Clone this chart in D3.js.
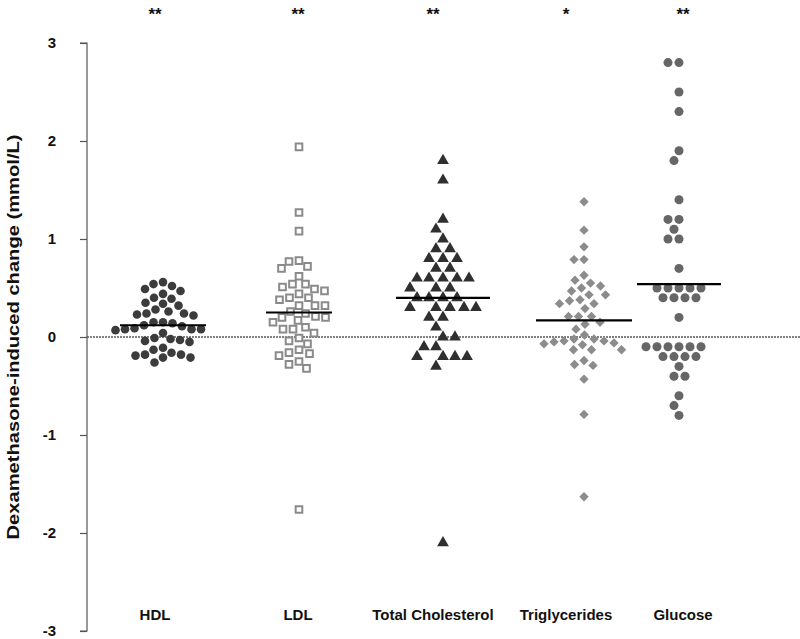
<!DOCTYPE html>
<html>
<head>
<meta charset="utf-8">
<script src="https://cdn.jsdelivr.net/npm/d3@7"></script>
<style>
  html, body { margin: 0; padding: 0; background: #fff; }
  svg { display: block; font-family: "Liberation Sans", Arial, sans-serif; }
</style>
</head>
<body>
<svg id="chart" width="800" height="639"></svg>
<script>
// ---------- data ----------
const categories = ["HDL", "LDL", "Total Cholesterol", "Triglycerides", "Glucose"];
const significance = ["**", "**", "**", "*", "**"];
const yTickValues = [-3, -2, -1, 0, 1, 2, 3];

const hdl = [0.56, 0.54, 0.52, 0.49, 0.47, 0.44, 0.40, 0.39, 0.35, 0.34, 0.32, 0.28,
  0.26, 0.24, 0.24, 0.23, 0.22, 0.15, 0.15, 0.14, 0.12, 0.11, 0.09, 0.08, 0.08, 0.08,
  0.07, 0.04, -0.01, -0.02, -0.03, -0.04, -0.05, -0.11, -0.13, -0.16, -0.18, -0.18,
  -0.19, -0.21, -0.21, -0.26];
const ldl = [1.94, 1.27, 1.08, 0.78, 0.77, 0.72, 0.70, 0.62, 0.54, 0.54, 0.51, 0.49,
  0.47, 0.44, 0.40, 0.40, 0.38, 0.32, 0.32, 0.32, 0.26, 0.24, 0.21, 0.20, 0.20, 0.17,
  0.15, 0.10, 0.08, 0.08, 0.04, -0.01, -0.04, -0.07, -0.13, -0.16, -0.17, -0.19,
  -0.25, -0.28, -0.32, -1.76];
const totalChol = [1.80, 1.60, 1.20, 1.10, 1.00, 0.90, 0.90, 0.80, 0.80, 0.80, 0.70,
  0.70, 0.60, 0.60, 0.60, 0.60, 0.60, 0.50, 0.50, 0.50, 0.40, 0.40, 0.40, 0.40, 0.30,
  0.30, 0.30, 0.30, 0.30, 0.20, 0.20, 0.10, 0.00, 0.00, -0.10, -0.10, -0.20, -0.20,
  -0.20, -0.20, -0.30, -2.10];
const triglycerides = [1.38, 1.09, 0.92, 0.79, 0.79, 0.63, 0.58, 0.55, 0.52, 0.50,
  0.47, 0.43, 0.43, 0.38, 0.37, 0.34, 0.34, 0.29, 0.21, 0.21, 0.21, 0.15, 0.13, 0.08,
  0.02, -0.02, -0.02, -0.04, -0.04, -0.05, -0.06, -0.07, -0.08, -0.13, -0.13, -0.13,
  -0.24, -0.28, -0.29, -0.43, -0.79, -1.63];
const glucose = [2.8, 2.8, 2.5, 2.3, 1.9, 1.8, 1.4, 1.2, 1.2, 1.1, 1.0, 1.0, 0.7,
  0.5, 0.5, 0.5, 0.5, 0.5, 0.4, 0.4, 0.4, 0.4, 0.2, -0.1, -0.1, -0.1, -0.1, -0.1,
  -0.1, -0.2, -0.2, -0.2, -0.2, -0.3, -0.4, -0.4, -0.6, -0.7, -0.8];
const groupMeans = [0.12, 0.25, 0.40, 0.17, 0.54];

const seriesValues = [hdl, ldl, totalChol, triglycerides, glucose];

// ---------- layout ----------
const svg = d3.select("#chart");
const y = d3.scaleLinear().domain([-3, 3]).range([631, 43]);
const xCenter = d3.scaleOrdinal().domain(categories).range([163, 299, 443, 584, 679]);
const xLabel = d3.scaleOrdinal().domain(categories).range([155, 298, 433, 566, 683]);
const meanHalf = d3.scaleOrdinal().domain(categories).range([43, 33, 47, 48, 42]);
const spacing = d3.scaleOrdinal().domain(categories).range([9.5, 10, 12, 10, 11]);

const styles = [
  { type: d3.symbolCircle, size: 58, fill: "#3c3c3c", stroke: "none", sw: 0, rot: 0 },
  { type: d3.symbolSquare, size: 44, fill: "#fff", stroke: "#8a8a8a", sw: 2, rot: 0 },
  { type: d3.symbolTriangle, size: 60, fill: "#2f2f2f", stroke: "none", sw: 0, rot: 0 },
  { type: d3.symbolSquare, size: 44, fill: "#8c8c8c", stroke: "none", sw: 0, rot: 45 },
  { type: d3.symbolCircle, size: 64, fill: "#666", stroke: "none", sw: 0, rot: 0 }
];

// zero reference line (dotted)
svg.append("line")
  .attr("x1", 87).attr("x2", 800)
  .attr("y1", y(0)).attr("y2", y(0))
  .attr("stroke", "#000").attr("stroke-width", 1)
  .attr("stroke-dasharray", "2,1");

// y axis
const yAxis = d3.axisLeft(y).tickValues(yTickValues).tickSize(7).tickPadding(24)
  .tickFormat(d => String(d));
const gAxis = svg.append("g").attr("transform", "translate(87,0)").call(yAxis);
gAxis.select(".domain").attr("stroke", "#555").attr("stroke-width", 1.2)
  .attr("d", `M-7,${y(3)}H0V${y(-3)}H-7`);
gAxis.selectAll(".tick line").attr("stroke", "#555").attr("stroke-width", 1.2);
gAxis.selectAll(".tick text")
  .attr("font-family", "'Liberation Sans', Arial, sans-serif")
  .attr("font-size", 15).attr("font-weight", "bold").attr("fill", "#111");

// y axis title
svg.append("text")
  .attr("transform", `translate(15,${y(0)}) rotate(-90)`)
  .attr("text-anchor", "middle")
  .attr("dominant-baseline", "middle")
  .attr("font-size", 17).attr("font-weight", "bold").attr("fill", "#111")
  .attr("textLength", 405).attr("lengthAdjust", "spacingAndGlyphs")
  .text("Dexamethasone-induced change (mmol/L)");

// beeswarm placement
function swarm(values, cx, d) {
  const placed = [];
  const order = values.map((v, i) => ({ v, i })).sort((a, b) => b.v - a.v);
  order.forEach(p => {
    const py = y(p.v);
    let best = null;
    for (let k = 0; k <= 200; k++) {
      const off = (k % 2 === 0 ? 1 : -1) * Math.ceil(k / 2) * 0.5;
      const px = cx + off;
      const ok = placed.every(q => (q.x - px) ** 2 + (q.y - py) ** 2 >= d * d);
      if (ok) { best = px; break; }
    }
    placed.push({ x: best, y: py, v: p.v });
  });
  return placed;
}

categories.forEach((cat, gi) => {
  const st = styles[gi];
  const pts = swarm(seriesValues[gi], xCenter(cat), spacing(cat));
  const sym = d3.symbol().type(st.type).size(st.size);
  svg.append("g").selectAll("path").data(pts).join("path")
    .attr("d", sym)
    .attr("transform", d => `translate(${d.x},${d.y}) rotate(${st.rot})`)
    .attr("fill", st.fill)
    .attr("stroke", st.stroke)
    .attr("stroke-width", st.sw);

  // mean line
  svg.append("line")
    .attr("x1", xCenter(cat) - meanHalf(cat)).attr("x2", xCenter(cat) + meanHalf(cat))
    .attr("y1", y(groupMeans[gi])).attr("y2", y(groupMeans[gi]))
    .attr("stroke", "#000").attr("stroke-width", 2.2);

  // category label
  svg.append("text")
    .attr("x", xLabel(cat)).attr("y", 620)
    .attr("text-anchor", "middle")
    .attr("font-size", 15).attr("font-weight", "bold").attr("fill", "#111")
    .text(cat);

  // significance stars
  svg.append("text")
    .attr("x", xLabel(cat)).attr("y", 20)
    .attr("text-anchor", "middle")
    .attr("font-size", 17).attr("font-weight", "bold").attr("fill", "#111")
    .text(significance[gi]);
});
</script>
</body>
</html>
